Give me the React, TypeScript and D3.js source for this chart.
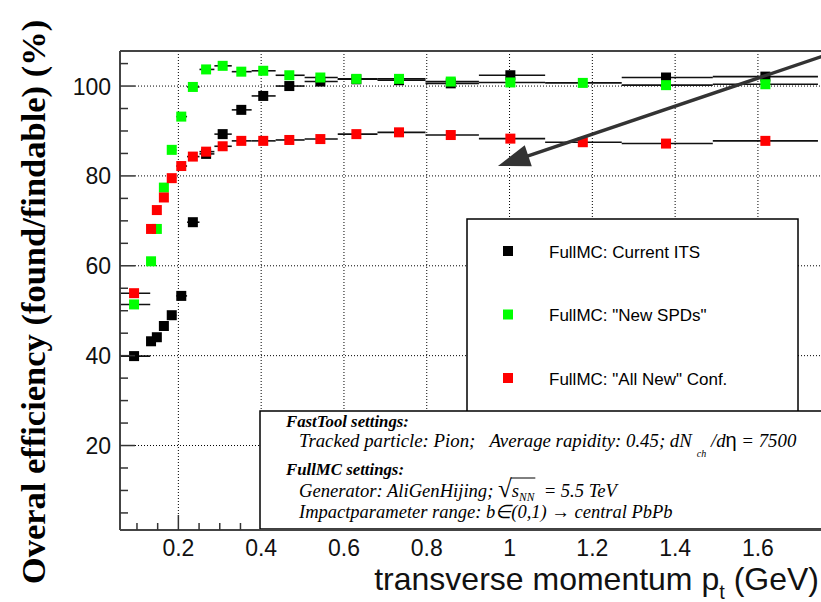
import React, { useLayoutEffect, useRef, useState } from 'react';
import * as d3 from 'd3';

// ---- data ----
const ptCenters = [0.093, 0.134, 0.148, 0.165, 0.184, 0.207, 0.235, 0.267, 0.307, 0.352, 0.405, 0.468, 0.543, 0.630, 0.733, 0.858, 1.002, 1.177, 1.378, 1.618];
const binEdges = [0.054, 0.132, 0.141, 0.156, 0.174, 0.195, 0.221, 0.251, 0.287, 0.329, 0.377, 0.435, 0.505, 0.585, 0.681, 0.797, 0.926, 1.086, 1.271, 1.491, 1.745];
const currentITS: (number | null)[] = [39.9, 43.2, 44.1, 46.6, 49.0, 53.3, 69.7, 84.9, 89.3, 94.7, 97.8, 100.0, 101.0, 101.5, 101.3, 100.6, 102.4, null, 101.9, 102.1];
const newSPDs: (number | null)[] = [51.4, 61.0, 68.2, 77.4, 85.8, 93.2, 99.8, 103.7, 104.5, 103.2, 103.4, 102.4, 101.9, 101.6, 101.6, 101.0, 100.8, 100.7, 100.2, 100.4];
const allNewConf: (number | null)[] = [53.9, 68.2, 72.4, 75.2, 79.5, 82.2, 84.3, 85.4, 86.6, 87.8, 87.8, 88.0, 88.2, 89.3, 89.7, 89.1, 88.3, 87.5, 87.2, 87.8];
const seriesNames = ['FullMC: Current ITS', 'FullMC: "New SPDs"', 'FullMC: "All New" Conf.'];
const seriesColors = ['#000000', '#00ff00', '#ff0000'];
const yMajorTicks = [20, 40, 60, 80, 100];
const yTickLabels = ['20', '40', '60', '80', '100'];
const xMajorTicks = [0.2, 0.4, 0.6, 0.8, 1.0, 1.2, 1.4, 1.6];
const xTickLabels = ['0.2', '0.4', '0.6', '0.8', '1', '1.2', '1.4', '1.6'];
const arrowTail = [1.80, 108.0];
const arrowTip = [0.972, 82.2];

const W = 821, H = 602;
const SANS = '"Liberation Sans", Arial, Helvetica, sans-serif';
const SERIF = '"Liberation Serif", "Times New Roman", Times, serif';
const NB = '\u00a0';

const x = d3.scaleLinear().domain([0.059, 1.77]).range([120, 828.3]);
const y = d3.scaleLinear().domain([1.2, 107.8]).range([530, 51]);

const series = [currentITS, newSPDs, allNewConf];

export default function App() {
  const genRef = useRef<SVGTextElement>(null);
  const [ov, setOv] = useState<[number, number, number] | null>(null);

  useLayoutEffect(() => {
    const t = genRef.current;
    if (!t) return;
    try {
      const a = t.getEndPositionOfChar(25);
      const b = t.getEndPositionOfChar(28);
      const bb = t.getExtentOfChar(25);
      setOv([a.x - 1, b.x + 1, bb.y + 3]);
    } catch (e) {}
  }, []);

  const plotLeft = 120, plotTop = 51, plotBottom = 530, plotRight = W;
  const yMinor = d3.range(5, 106, 5);
  const xMinor = d3.range(0.1, 1.76, 0.05);

  // arrow geometry
  const tx = x(arrowTail[0]), ty = y(arrowTail[1]);
  const hx = x(arrowTip[0]), hy = y(arrowTip[1]);
  const len = Math.hypot(hx - tx, hy - ty);
  const ux = (hx - tx) / len, uy = (hy - ty) / len;
  const L = 32, Wd = 11;
  const bx = hx - ux * L, by = hy - uy * L;
  const head = `${hx},${hy} ${bx - uy * Wd},${by + ux * Wd} ${bx + uy * Wd},${by - ux * Wd}`;

  return (
    <svg width={W} height={H} style={{ position: 'absolute', left: 0, top: 0, background: '#fff' }}>
      <defs>
        <clipPath id="plot">
          <rect x={plotLeft} y={plotTop} width={plotRight - plotLeft} height={plotBottom - plotTop} />
        </clipPath>
      </defs>
      <rect x={0} y={0} width={W} height={H} fill="#fff" />

      {/* grid */}
      <g clipPath="url(#plot)" stroke="#000" strokeWidth={1} strokeDasharray="1,2">
        {yMajorTicks.map(v => (
          <line key={'gy' + v} x1={plotLeft + 15} x2={plotRight} y1={y(v)} y2={y(v)} />
        ))}
        {xMajorTicks.map(v => (
          <line key={'gx' + v} x1={x(v)} x2={x(v)} y1={plotTop} y2={plotBottom - 15} />
        ))}
      </g>

      {/* data */}
      <g clipPath="url(#plot)">
        {series.map((vals, si) => (
          <g key={'s' + si}>
            {vals.map((v, i) => v == null ? null : (
              <line key={'e' + i} x1={x(binEdges[i])} x2={x(binEdges[i + 1])} y1={y(v)} y2={y(v)} stroke="#111" strokeWidth={1.6} />
            ))}
            {vals.map((v, i) => v == null ? null : (
              <rect key={'m' + i} x={x(ptCenters[i]) - 5} y={y(v) - 5} width={10} height={10} fill={seriesColors[si]} />
            ))}
          </g>
        ))}
      </g>

      {/* arrow */}
      <g clipPath="url(#plot)">
        <line x1={tx} y1={ty} x2={bx + ux * 4} y2={by + uy * 4} stroke="#333" strokeWidth={3.5} />
        <polygon points={head} fill="#333" />
      </g>

      {/* legend */}
      <rect x={467} y={219} width={331} height={200} fill="#fff" stroke="#000" strokeWidth={1.5} />
      {seriesNames.map((n, i) => (
        <g key={'lg' + i}>
          <rect x={503} y={246 + i * 63.5} width={10} height={10} fill={seriesColors[i]} />
          <text x={549} y={257.5 + i * 63.5} fontFamily={SANS} fontSize={17} fill="#000">{n}</text>
        </g>
      ))}

      {/* settings box */}
      <rect x={260} y={411} width={600} height={118} fill="#fff" stroke="#000" strokeWidth={1.5} />
      <g fontFamily={SERIF} fontSize={18.6} fontStyle="italic" fill="#000">
        <text x={286} y={427} fontWeight="bold" fontSize={16.8}>FastTool settings:</text>
        <text x={299} y={446.5} fontSize={18.8}>
          <tspan>{`Tracked particle: Pion;${NB}${NB}${NB}Average rapidity: 0.45; dN`}</tspan>
          <tspan dy={10} fontSize={10}>{`${NB}${NB}ch`}</tspan>
          <tspan dy={-10}>{`${NB}/d`}</tspan>
          <tspan fontStyle="normal" fontFamily={SANS} fontSize={20}>{'η'}</tspan>
          <tspan>{`${NB}= 7500`}</tspan>
        </text>
        <text x={286} y={475} fontWeight="bold" fontSize={16.8}>FullMC settings:</text>
        <text ref={genRef} x={299} y={497}>
          <tspan>{`Generator: AliGenHijing;${NB}`}</tspan>
          <tspan fontStyle="normal" fontSize={25}>{'√'}</tspan>
          <tspan>{'s'}</tspan>
          <tspan dy={4} fontSize={11.5}>{`NN`}</tspan>
          <tspan dy={-4}>{`${NB}${NB}= 5.5 TeV`}</tspan>
        </text>
        <text x={299} y={517.5} fontSize={18.5}>{'Impactparameter range: b∈(0,1) → central PbPb'}</text>
      </g>
      {ov && <line x1={ov[0]} x2={ov[1]} y1={ov[2]} y2={ov[2]} stroke="#000" strokeWidth={1} />}

      {/* frame */}
      <g stroke="#444" strokeWidth={2} fill="none">
        <line x1={plotLeft} x2={plotLeft} y1={plotTop} y2={plotBottom} />
        <line x1={plotLeft} x2={plotRight} y1={plotTop} y2={plotTop} />
        <line x1={plotLeft} x2={plotRight} y1={plotBottom} y2={plotBottom} />
      </g>
      {/* y ticks */}
      <g stroke="#333" strokeWidth={1.5}>
        {yMinor.map(v => (
          <line key={'yt' + v} x1={plotLeft} x2={plotLeft + (v % 20 === 0 ? 15 : 8)} y1={y(v)} y2={y(v)} />
        ))}
      </g>
      {/* x ticks (visible left of settings box) */}
      <g stroke="#333" strokeWidth={1.5}>
        {xMinor.filter(v => x(v) < 259).map(v => (
          <line key={'xt' + v} x1={x(v)} x2={x(v)} y1={plotBottom} y2={plotBottom - (Math.abs(v / 0.2 - Math.round(v / 0.2)) < 1e-6 ? 15 : 7)} />
        ))}
      </g>

      {/* tick labels */}
      <g fontFamily={SANS} fontSize={23} fill="#111">
        {yMajorTicks.map((v, i) => (
          <text key={'yl' + v} x={111} y={y(v) + 8.5} textAnchor="end">{yTickLabels[i]}</text>
        ))}
        {xMajorTicks.map((v, i) => (
          <text key={'xl' + v} x={x(v)} y={555.5} textAnchor="middle">{xTickLabels[i]}</text>
        ))}
      </g>

      {/* axis titles */}
      <text x={819} y={589.5} textAnchor="end" fontFamily={SANS} fontSize={32} fill="#111">
        <tspan>transverse momentum p</tspan>
        <tspan dy={9} fontSize={20}>t</tspan>
        <tspan dy={-9}>{`${NB}(GeV)`}</tspan>
      </text>
      <text transform="translate(45,302) rotate(-90)" textAnchor="middle" fontFamily={SERIF} fontWeight="bold" fontSize={34.5} fill="#000">
        Overal efficiency (found/findable) (%)
      </text>
    </svg>
  );
}
